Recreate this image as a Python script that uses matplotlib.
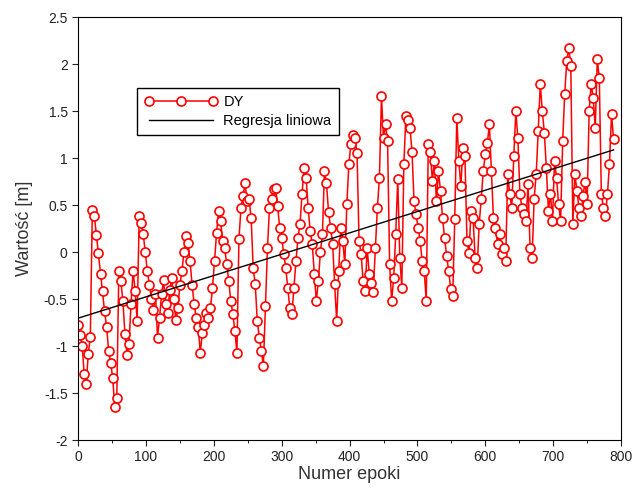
import numpy as np
import matplotlib
matplotlib.use("Agg")
import matplotlib.pyplot as plt
from matplotlib.ticker import MultipleLocator

# wartosci DY (co 3 epoki)
dy = [
    -0.78, -0.88, -1.0, -1.3, -1.4, -1.08, -0.9, 0.45, 0.38, 0.18,
    -0.01, -0.23, -0.41, -0.63, -0.8, -1.05, -1.18, -1.34, -1.65, -1.55,
    -0.2, -0.31, -0.52, -0.87, -1.09, -0.98, -0.55, -0.2, -0.41, -0.73,
    0.38, 0.31, 0.19, 0.0, -0.2, -0.35, -0.5, -0.62, -0.45, -0.91,
    -0.7, -0.45, -0.3, -0.55, -0.65, -0.4, -0.28, -0.5, -0.72, -0.6,
    -0.35, -0.2, 0.0, 0.17, 0.1, -0.1, -0.35, -0.55, -0.7, -0.8,
    -1.07, -0.86, -0.78, -0.65, -0.7, -0.6, -0.38, -0.1, 0.2, 0.44,
    0.33, 0.12, 0.04, -0.13, -0.31, -0.52, -0.66, -0.84, -1.07, 0.14,
    0.47, 0.6, 0.73, 0.54, 0.56, 0.36, -0.17, -0.34, -0.73, -0.91,
    -1.05, -1.21, -0.57, 0.04, 0.47, 0.57, 0.67, 0.68, 0.49, 0.26,
    0.15, -0.02, -0.17, -0.38, -0.6, -0.66, -0.38, -0.1, 0.15, 0.3,
    0.62, 0.9, 0.79, 0.47, 0.22, 0.09, -0.23, -0.52, -0.31, 0.0,
    0.19, 0.86, 0.73, 0.43, 0.26, 0.09, -0.34, -0.73, -0.2, 0.26,
    0.12, -0.13, 0.51, 0.94, 1.15, 1.25, 1.21, 1.05, 0.12, -0.02,
    -0.31, -0.41, 0.04, -0.23, -0.33, -0.42, 0.04, 0.47, 0.79, 1.66,
    1.21, 1.36, 1.18, -0.13, -0.52, -0.28, 0.19, 0.78, -0.06, -0.38,
    0.94, 1.45, 1.41, 1.32, 1.07, 0.54, 0.4, 0.26, 0.12, -0.1,
    -0.2, -0.52, 1.15, 1.07, 0.76, 0.97, 0.54, 0.86, 0.65, 0.36,
    0.15, -0.04, -0.2, -0.39, -0.47, 0.35, 1.43, 0.97, 0.7, 1.11,
    1.02, 0.12, -0.01, 0.44, 0.36, -0.06, -0.17, 0.3, 0.57, 0.86,
    1.04, 1.16, 1.36, 0.86, 0.36, 0.26, 0.09, 0.19, -0.02, 0.04,
    -0.1, 0.83, 0.62, 0.47, 1.02, 1.5, 1.21, 0.62, 0.47, 0.4,
    0.33, 0.72, 0.04, -0.06, 0.57, 0.83, 1.29, 1.79, 1.5, 1.27,
    0.89, 0.44, 0.62, 0.33, 0.97, 0.79, 0.51, 0.33, 1.18, 1.68,
    2.03, 2.17, 1.98, 0.3, 0.83, 0.65, 0.47, 0.38, 0.6, 0.75,
    0.51, 1.5, 1.79, 1.64, 1.32, 2.05, 1.85, 0.62, 0.47, 0.38,
    0.62, 0.94, 1.47, 1.2,
]
epoki = np.arange(0, 3 * len(dy), 3)

x_ticks = [0, 100, 200, 300, 400, 500, 600, 700, 800]
y_ticks = [-2, -1.5, -1, -0.5, 0, 0.5, 1, 1.5, 2, 2.5]
y_labels = ["-2", "-1.5", "-1", "-0.5", "0", "0.5", "1", "1.5", "2", "2.5"]

# regresja liniowa
a, b = np.polyfit(epoki, dy, 1)
x_reg = np.array([epoki[0], epoki[-1]])
y_reg = a * x_reg + b

plt.rcParams['font.family'] = ['Liberation Sans', 'DejaVu Sans']

fig = plt.figure(figsize=(6.35, 4.9), dpi=100)
ax = fig.add_axes([0.123, 0.102, 0.855, 0.863])

ax.plot(epoki, dy, color="red", lw=1.1, marker="o", ms=6.5, mfc="white",
        mec="red", mew=1.2, label="DY")
ax.plot(x_reg, y_reg, color="black", lw=1, label="Regresja liniowa")

ax.set_xlim(0, 800)
ax.set_ylim(-2, 2.5)
ax.set_xticks(x_ticks)
ax.set_yticks(y_ticks)
ax.set_yticklabels(y_labels)
ax.xaxis.set_minor_locator(MultipleLocator(50))
ax.tick_params(which="major", direction="out", length=4, labelsize=10, colors="#222222")
ax.tick_params(which="minor", direction="out", length=2)
ax.tick_params(axis="y", which="minor", left=False)

ax.set_xlabel("Numer epoki", fontsize=13, color="#333333", labelpad=1)
ax.set_ylabel("Wartość [m]", fontsize=13, color="#333333", labelpad=8)

leg = ax.legend(loc="upper left", bbox_to_anchor=(0.109, 0.832), numpoints=3,
                fontsize=10.5, fancybox=False, framealpha=1, edgecolor="black",
                handlelength=5, handletextpad=0.4, borderpad=0.5,
                labelspacing=0.3, borderaxespad=0)
leg.get_frame().set_linewidth(1)

plt.savefig("out.png", dpi=100)
